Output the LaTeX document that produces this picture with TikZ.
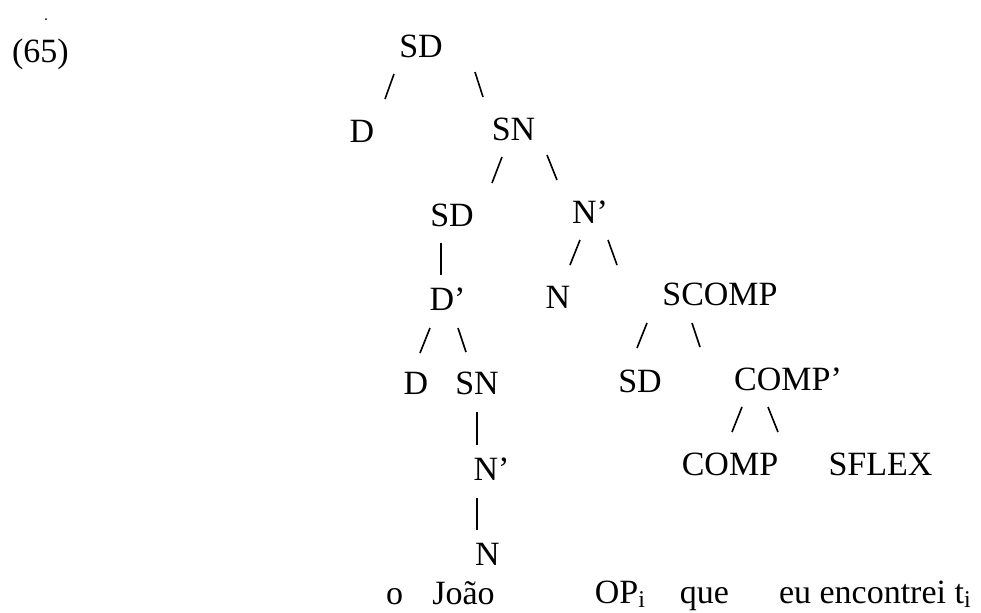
\documentclass[tikz,border=0pt]{standalone}
\usepackage{fontspec}
\setmainfont{Liberation Serif}
\begin{document}
\begin{tikzpicture}[x=0.5pt,y=-0.5pt,
  lab/.style={inner sep=0pt,outer sep=0pt,anchor=base,font=\fontsize{17}{20}\selectfont},
  br/.style={line width=0.8pt,black}]
\useasboundingbox (0,0) rectangle (981,612);
\newcommand\sbi{\raisebox{-2pt}{\fontsize{12}{12}\selectfont i}}

% example number and the speck above it
\fill (46,19) circle (1);
\node[lab,anchor=base west] (ex) at (12,62) {(65)};

% tree labels
\node[lab] (sd0)   at (421,57)    {SD};
\node[lab] (d1)    at (362,142)   {D};
\node[lab] (sn1)   at (513.5,140) {SN};
\node[lab] (sd2)   at (452,226)   {SD};
\node[lab] (np2)   at (590,223)   {N’};
\node[lab] (dp3)   at (447.5,310) {D’};
\node[lab] (n3)    at (558,308)   {N};
\node[lab] (scomp) at (720,305)   {SCOMP};
\node[lab] (d4)    at (416,394)   {D};
\node[lab] (sn4)   at (477,394)   {SN};
\node[lab] (sd4)   at (640,392)   {SD};
\node[lab] (compp) at (788,390)   {COMP’};
\node[lab] (np5)   at (491.5,480) {N’};
\node[lab] (comp5) at (730,475)   {COMP};
\node[lab] (sflex) at (880.5,475) {SFLEX};
\node[lab] (n6)    at (487.5,565) {N};

% terminal words
\node[lab] (wo)    at (394.5,604) {o};
\node[lab] (wjoao) at (463.5,604) {João};
\node[lab] (wop)   at (620,603)   {OP\sbi};
\node[lab] (wque)  at (704.5,603) {que};
\node[lab,anchor=base west] (weu) at (779,603) {eu encontrei t\sbi};

% branches: short strokes between parent and daughter
\draw[br] ([shift={(-27,17)}]sd0.base)    -- ([shift={(23,-43)}]d1.base);
\draw[br] ([shift={(54,15)}]sd0.base)     -- ([shift={(-30.5,-43)}]sn1.base);
\draw[br] ([shift={(-11.5,17)}]sn1.base)  -- ([shift={(40,-43)}]sd2.base);
\draw[br] ([shift={(33.5,15)}]sn1.base)   -- ([shift={(-33,-43)}]np2.base);
\draw[br] ([shift={(-11,17)}]sd2.base)    -- ([shift={(-6.5,-35)}]dp3.base);
\draw[br] ([shift={(-10,17)}]np2.base)    -- ([shift={(12,-43)}]n3.base);
\draw[br] ([shift={(18,17)}]np2.base)     -- ([shift={(-103,-40)}]scomp.base);
\draw[br] ([shift={(-17.5,18)}]dp3.base)  -- ([shift={(4,-41)}]d4.base);
\draw[br] ([shift={(10.5,18)}]dp3.base)   -- ([shift={(-11,-42)}]sn4.base);
\draw[br] ([shift={(-73,18)}]scomp.base)  -- ([shift={(-3,-44)}]sd4.base);
\draw[br] ([shift={(-28,18)}]scomp.base)  -- ([shift={(-88,-43)}]compp.base);
\draw[br] ([shift={(0,18)}]sn4.base)      -- ([shift={(-14.5,-35)}]np5.base);
\draw[br] ([shift={(-46,17)}]compp.base)  -- ([shift={(2,-43)}]comp5.base);
\draw[br] ([shift={(-20,17)}]compp.base)  -- ([shift={(-102.5,-43)}]sflex.base);
\draw[br] ([shift={(-14.5,18)}]np5.base)  -- ([shift={(-10.5,-35)}]n6.base);
\end{tikzpicture}
\end{document}
